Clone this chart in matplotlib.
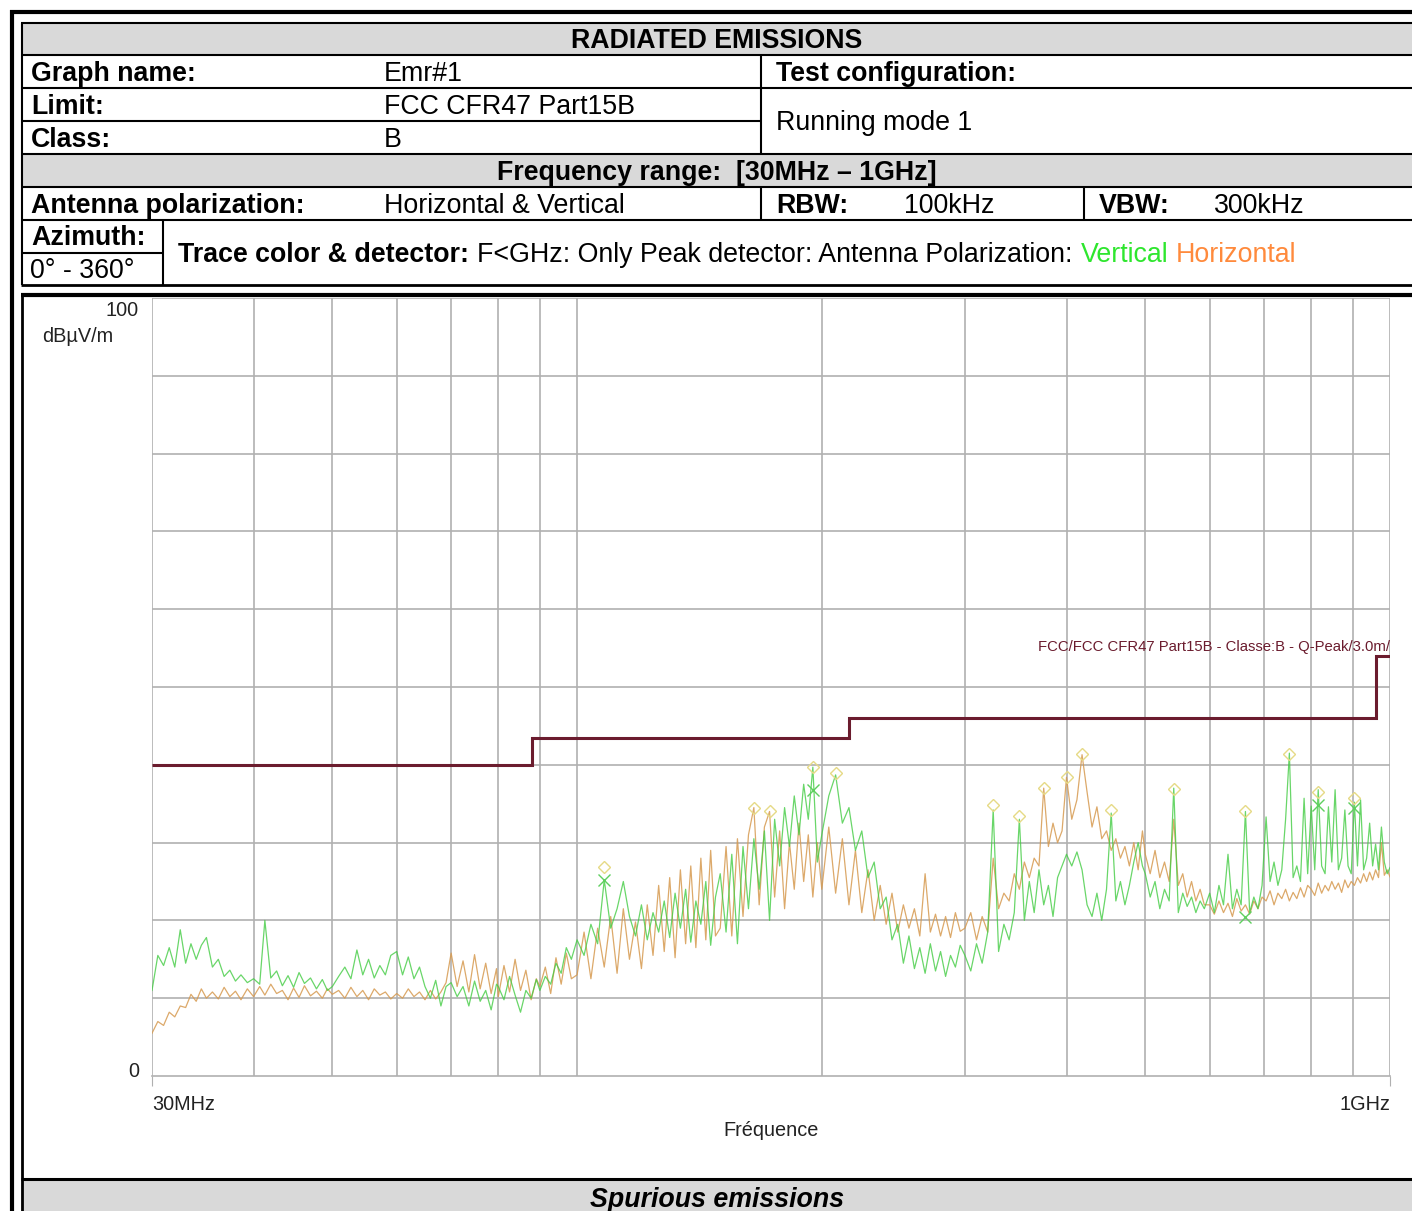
import matplotlib.pyplot as plt
from matplotlib.patches import Rectangle

plt.rcParams['font.family'] = ['Liberation Sans', 'DejaVu Sans']

# sweep frequencies (MHz) and peak levels (dBuV/m)
freq_mhz = [
    30, 30.5, 31, 31.5, 32, 32.5, 33, 33.5, 34, 34.5, 35, 35.6, 36.2, 36.8, 37.4, 38, 38.6, 39.3,
    40, 40.7, 41.3, 42, 42.7, 43.4, 44.1, 44.8, 45.5, 46.2, 47, 47.8, 48.6, 49.3,
    50, 50.9, 51.8, 52.7, 53.6, 54.5, 55.4, 56.3, 57.2, 58.1, 59,
    60, 61, 62, 63, 64, 65, 66, 67, 68, 69,
    70, 71.2, 72.4, 73.6, 74.8, 76, 77.2, 78.4, 79.6,
    80, 81.3, 82.6, 83.9, 85.2, 86.5, 87.8, 89.1,
    90, 91.4, 92.8, 94.2, 95.6, 97, 98.4,
    100, 102, 104, 106, 108, 110, 112, 114, 116, 118, 120, 122, 124, 126, 128, 130,
    132, 134, 136, 138, 140, 142, 144, 146, 148,
    150, 152.5, 155, 157.5, 160, 162.5, 165, 167.5, 170, 172.5, 175, 177.5, 180, 182.5,
    185, 187.5, 190, 192.5, 195, 197.5,
    200, 204, 208, 212, 216, 220, 224, 228, 232, 236, 240, 244, 248, 252, 256, 260,
    264, 268, 272, 276, 280, 284, 288, 292, 296,
    300, 305, 310, 315, 320, 325, 330, 335, 340, 345, 350, 355, 360, 365, 370, 375,
    380, 385, 390, 395,
    400, 406, 412, 418, 424, 430, 436, 442, 448, 454, 460, 466, 472, 478, 484, 490, 496,
    500, 507, 514, 521, 528, 535, 542, 549, 556, 563, 570, 577, 584, 591,
    600, 608, 616, 624, 632, 640, 648, 656, 664, 672, 680, 688, 696,
    704, 712, 720, 728, 736, 744, 752, 760, 768, 776, 784, 792,
    800, 808, 816, 824, 832, 840, 848, 856, 864, 872, 880, 888, 896,
    904, 912, 920, 928, 936, 944, 952, 960, 968, 976, 984, 992, 1000,
]

vertical_db = [
    11.0, 15.5, 14.2, 16.5, 14.0, 18.8, 14.5, 17.0, 15.0, 16.8, 17.8, 14.0, 15.0, 12.8, 13.6, 12.2, 13.0, 12.0,
    12.5, 11.8, 20.0, 12.6, 13.5, 11.6, 12.9, 11.4, 13.3, 11.9, 12.6, 11.2, 12.4, 11.0,
    11.5, 12.8, 14.0, 12.5, 16.2, 13.0, 15.0, 12.6, 14.2, 13.0, 15.5,
    16.0, 13.0, 15.3, 12.5, 14.0, 11.5, 10.0, 12.3, 9.0, 11.5,
    12.0, 10.2, 11.5, 9.0, 12.2, 9.6, 11.0, 8.5, 11.8,
    11.5, 9.8, 12.8, 10.4, 8.2, 11.0, 10.0, 12.4,
    11.0, 12.8, 11.8, 14.5, 13.2, 16.5, 15.0,
    17.5, 15.5, 19.5, 17.0, 25.2, 19.0, 21.5, 25.0, 20.5, 18.0, 22.0, 17.5, 21.0, 18.5, 22.5, 17.8,
    23.5, 19.0, 24.0, 17.2, 22.5, 19.5, 25.0, 16.8, 23.0,
    26.0, 18.5, 28.5, 17.0, 29.5, 21.5, 30.5, 24.0, 31.5, 20.0, 33.0, 27.0, 34.5, 29.5,
    36.0, 31.0, 37.5, 33.0, 39.7, 27.5,
    31.0, 36.0, 38.7, 32.5, 34.5, 29.0, 31.5, 25.5, 27.5, 21.5, 23.0, 17.5, 19.5, 14.5, 18.0, 13.8,
    16.5, 13.2, 17.0, 13.5, 16.0, 12.8, 15.5, 14.0, 16.8,
    15.5, 13.5, 17.0, 14.5, 18.5, 34.2, 16.0, 19.5, 17.5, 21.0, 33.0, 20.0, 25.0, 21.0, 26.5, 22.0,
    24.5, 20.5, 25.5, 27.0,
    28.5, 27.0, 28.8, 26.5, 22.0, 20.5, 23.5, 20.0, 24.0, 33.8, 22.5, 25.0, 22.0, 24.5, 27.5, 30.0, 27.0,
    26.0, 23.0, 25.0, 21.5, 24.0, 22.5, 37.0, 21.0, 23.5, 21.8, 23.0, 21.0, 22.5, 21.5,
    23.5, 21.0, 24.5, 22.0, 28.5, 21.5, 24.0, 22.0, 34.0, 21.0, 23.0, 21.5, 24.5,
    33.3, 25.0, 27.5, 24.5, 26.5, 33.0, 41.5, 25.5, 27.0, 25.0, 35.7, 26.0,
    34.7, 26.5, 36.8, 27.0, 26.0, 34.6, 27.5, 36.8, 26.5, 28.0, 34.2, 27.0, 26.0,
    35.2, 27.0, 35.5, 26.5, 28.0, 32.5, 27.0, 29.8, 26.5, 32.0, 27.5, 26.0, 26.8,
]

horizontal_db = [
    5.5, 7.0, 6.5, 8.2, 7.6, 9.0, 8.8, 10.5, 9.6, 11.2, 10.0, 10.8, 9.9, 11.4, 10.2, 10.9, 9.8, 11.2,
    10.2, 11.5, 10.4, 11.8, 10.6, 11.0, 9.8, 11.3, 10.1, 11.6, 10.3, 10.9, 10.0, 11.2,
    10.5, 11.0, 10.0, 11.4, 10.2, 11.0, 9.8, 11.2, 10.4, 10.8, 9.9,
    10.6, 10.0, 11.2, 10.2, 10.8, 9.8, 11.0, 9.9, 10.8, 12.0,
    15.8, 11.5, 14.8, 10.8, 15.6, 11.2, 14.5, 10.6, 13.8,
    10.2, 14.2, 10.8, 15.0, 11.0, 13.6, 9.8, 12.5,
    11.5, 14.0, 10.6, 15.2, 11.8, 15.8, 12.5,
    13.0, 18.5, 12.5, 19.0, 14.0, 20.5, 13.2, 21.5, 15.0, 19.8, 13.8, 22.0, 15.5, 24.5, 16.0, 25.5,
    15.2, 26.5, 17.0, 27.0, 16.5, 28.0, 17.5, 29.0, 18.0,
    19.0, 29.5, 18.0, 30.5, 20.5, 31.0, 34.5, 22.0, 32.0, 34.0, 23.0, 31.5, 21.5, 30.0,
    24.0, 32.5, 25.0, 31.0, 23.0, 30.0,
    24.0, 32.0, 23.5, 30.5, 22.0, 29.0, 21.0, 26.5, 20.0, 24.5, 19.5, 23.5, 18.5, 22.0, 19.0, 21.5,
    18.0, 26.0, 18.5, 20.8, 18.0, 20.5, 17.8, 21.0, 18.6,
    19.0, 21.0, 17.5, 20.5, 18.5, 28.0, 21.5, 23.5, 22.5, 26.0, 24.0, 27.5, 25.5, 28.0, 27.0, 37.0,
    29.5, 32.5, 30.0, 31.5,
    38.4, 33.0, 35.5, 41.3, 36.5, 32.0, 34.6, 30.5, 31.5, 29.0, 30.5, 28.0, 29.5, 27.0, 30.0, 26.5, 31.5,
    28.5, 26.0, 29.0, 25.5, 27.5, 25.0, 33.0, 24.5, 26.0, 23.0, 25.0, 22.5, 24.0, 22.0,
    22.0, 20.8, 22.5, 21.0, 22.2, 20.5, 22.8, 21.2, 22.0, 20.8, 22.5, 21.5, 23.0,
    22.5, 23.8, 22.0, 23.5, 22.8, 24.0, 22.5, 23.6, 22.8, 24.2, 23.0, 24.5,
    24.0, 23.2, 24.8, 23.5, 24.5, 23.8, 25.0, 24.0, 24.8, 23.6, 25.2, 24.2, 25.0,
    24.5, 25.5, 24.8, 26.0, 25.0, 26.2, 25.2, 26.5, 25.5, 30.0, 25.8, 26.5, 25.6,
]

# FCC Part 15B class B limit, 3 m
limit_edges = [30, 88, 216, 960, 1000]
limit_db = [40, 43.5, 46, 54]

# peak markers
peak_f = [108, 165, 172.5, 195, 208, 325, 350, 375, 400, 418, 454, 542, 664, 752, 816, 904]
peak_db = [26.9, 34.5, 34.0, 39.7, 38.9, 34.8, 33.4, 37.0, 38.4, 41.4, 34.2, 36.9, 34.1, 41.4, 36.5, 35.7]
cross_f = [108, 195, 664, 816, 904]
cross_db = [25.2, 36.8, 20.4, 34.8, 34.4]

grid_f = [30, 40, 50, 60, 70, 80, 90, 100, 200, 300, 400, 500, 600, 700, 800, 900, 1000]

W, H = 1412, 1211
fig = plt.figure(figsize=(W / 100, H / 100), dpi=100)
page = fig.add_axes([0, 0, 1, 1])
page.set_xlim(0, W)
page.set_ylim(H, 0)
page.axis('off')

for y0, y1 in [(23, 55), (154, 187), (1180, 1211)]:
    page.add_patch(Rectangle((21, y0), W - 21, y1 - y0, color='#d9d9d9', lw=0))


def hline(y, x0=21, x1=W, lw=1.5):
    page.plot([x0, x1], [y, y], color='black', lw=lw, solid_capstyle='butt')


def vline(x, y0, y1, lw=1.5):
    page.plot([x, x], [y0, y1], color='black', lw=lw, solid_capstyle='butt')


# outer frame
hline(12, 10, W, lw=3)
vline(12, 10, H, lw=3)
# header table
for y in [23, 55, 88, 154, 187, 220]:
    hline(y)
hline(121, 21, 761)
hline(253, 21, 163)
hline(285, lw=2)
vline(22, 23, 285)
vline(761, 55, 154)
vline(761, 187, 220)
vline(1084, 187, 220)
vline(163, 220, 285)
# chart frame
hline(295, lw=3)
vline(22, 295, H, lw=2)
hline(1179, lw=2.2)

fs = 19.3
page.text(717, 48, 'RADIATED EMISSIONS', ha='center', fontsize=fs, fontweight='bold')
page.text(31, 81, 'Graph name:', fontsize=fs, fontweight='bold')
page.text(384, 81, 'Emr#1', fontsize=fs)
page.text(776, 81, 'Test configuration:', fontsize=fs, fontweight='bold')
page.text(31, 114, 'Limit:', fontsize=fs, fontweight='bold')
page.text(384, 114, 'FCC CFR47 Part15B', fontsize=fs)
page.text(31, 147, 'Class:', fontsize=fs, fontweight='bold')
page.text(384, 147, 'B', fontsize=fs)
page.text(776, 130, 'Running mode 1', fontsize=fs)
page.text(717, 180, 'Frequency range:  [30MHz \u2013 1GHz]', ha='center', fontsize=fs, fontweight='bold')
page.text(31, 213, 'Antenna polarization:', fontsize=fs, fontweight='bold')
page.text(384, 213, 'Horizontal & Vertical', fontsize=fs)
page.text(776, 213, 'RBW:', fontsize=fs, fontweight='bold')
page.text(904, 213, '100kHz', fontsize=fs)
page.text(1099, 213, 'VBW:', fontsize=fs, fontweight='bold')
page.text(1214, 213, '300kHz', fontsize=fs)
page.text(31, 245, 'Azimuth:', fontsize=fs, fontweight='bold')
page.text(30, 278, '0\u00b0 - 360\u00b0', fontsize=fs)
page.text(717, 1207, 'Spurious emissions', ha='center', fontsize=fs,
          fontweight='bold', fontstyle='italic')

renderer = fig.canvas.get_renderer()
x = 178
parts = [('Trace color & detector:', 'black', 'bold'),
         ('F<GHz: Only Peak detector: Antenna Polarization:', 'black', 'normal'),
         ('Vertical', '#2ee62e', 'normal'),
         ('Horizontal', '#ff8a3c', 'normal')]
for s, c, w in parts:
    t = page.text(x, 262, s, color=c, fontweight=w, fontsize=fs)
    x += t.get_window_extent(renderer=renderer).width + 8

# chart
ax = fig.add_axes([152 / W, (H - 1076) / H, 1238 / W, 778 / H])
ax.set_xscale('log')
ax.set_xlim(30, 1000)
ax.set_ylim(0, 100)
gc = '#b0b0b0'
for f in grid_f:
    ax.axvline(f, color=gc, lw=1.2, zorder=0)
for v in range(10, 101, 10):
    ax.axhline(v, color=gc, lw=1.2, zorder=0)
for s in ax.spines.values():
    s.set_visible(False)
ax.spines['bottom'].set_visible(True)
ax.spines['bottom'].set_color(gc)
ax.spines['bottom'].set_linewidth(1.2)

ax.set_xticks([30, 1000], minor=False)
ax.set_xticks([], minor=True)
ax.set_xticklabels(['30MHz', '1GHz'], fontsize=14.3, color='#222222')
lbls = ax.get_xticklabels()
lbls[0].set_ha('left')
lbls[1].set_ha('right')
ax.tick_params(axis='x', length=7, color=gc, pad=7)
ax.set_yticks([])
ax.set_xlabel('Fr\u00e9quence', fontsize=14.3, color='#222222', labelpad=5)

ax.plot(freq_mhz, horizontal_db, color='#d69a50', lw=0.9, alpha=0.85, zorder=2)
ax.plot(freq_mhz, vertical_db, color='#44cc44', lw=0.9, alpha=0.8, zorder=3)
ax.plot(peak_f, peak_db, ls='none', marker='D', ms=6, mfc='none', mec='#e6da86', mew=1, zorder=4)
ax.plot(cross_f, cross_db, ls='none', marker='x', ms=9, color='#5fcf5f', mew=1, zorder=4)

maroon = '#6b1c2e'
ax.stairs(limit_db, limit_edges, baseline=None, color=maroon, lw=2.2, zorder=5)
ax.text(1000, 54.6, 'FCC/FCC CFR47 Part15B - Classe:B - Q-Peak/3.0m/', ha='right',
        va='baseline', fontsize=10.7, color=maroon, zorder=6)

page.text(139, 316, '100', ha='right', fontsize=14.3, color='#222222')
page.text(42, 342, 'dB\u00b5V/m', fontsize=14.3, color='#222222')
page.text(139, 1077, '0', ha='right', fontsize=14.3, color='#222222')

fig.savefig('out.png', dpi=100)
